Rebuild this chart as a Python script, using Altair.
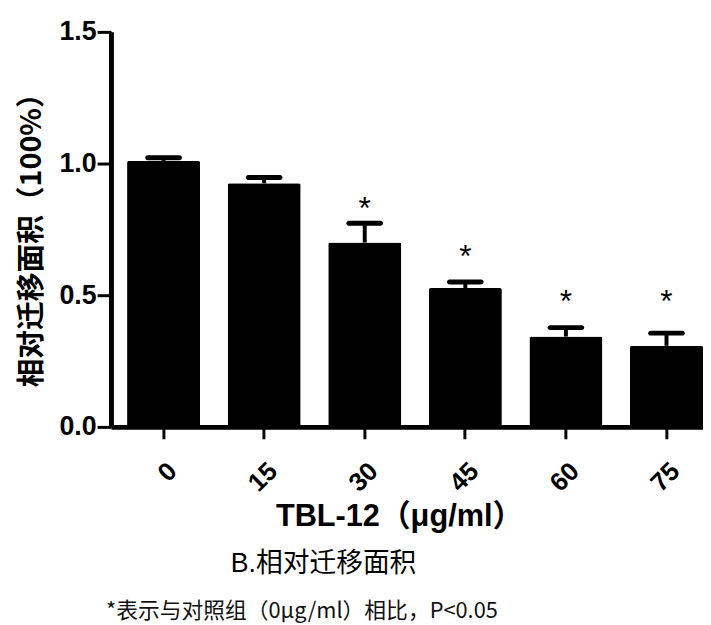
import altair as alt
import pandas as pd

# ---- data ----
doses = ["0", "15", "30", "45", "60", "75"]
means = [1.01, 0.925, 0.70, 0.527, 0.343, 0.308]
errors = [0.012, 0.022, 0.073, 0.023, 0.034, 0.048]
star_text = ["", "", "*", "*", "*", "*"]
star_level = [None, None, 0.847, 0.662, 0.492, 0.492]

subtitle = "B.相对迁移面积"
footnote = "*表示与对照组（0μg/ml）相比，P<0.05"
x_title = "TBL-12（μg/ml）"
y_title = "相对迁移面积（100%）"
y_ticks = [0.0, 0.5, 1.0, 1.5]

df = pd.DataFrame({
    "dose": doses,
    "mean": means,
    "err": errors,
    "star": star_text,
    "star_y": star_level,
})

LATIN = "Liberation Sans, Noto Sans CJK SC"
CJK = "Noto Sans CJK SC"

xscale = alt.Scale(paddingInner=0.274, paddingOuter=0.08, align=1.0)
yscale = alt.Scale(domain=[0, 1.5], nice=False)

xenc = alt.X(
    "dose:N", sort=doses, scale=xscale,
    axis=alt.Axis(
        title=x_title, labelAngle=-45, labelFont=LATIN, labelFontSize=26,
        labelFontWeight="bold", labelColor="black", labelPadding=19,
        tickSize=12, tickWidth=3, tickColor="black",
        domainWidth=5, domainColor="black", titleLimit=600,
        titleFont=LATIN, titleFontSize=31, titleFontWeight="bold", titleColor="black",
        titleX=291, titleY=91, titleAlign="center", titleBaseline="middle",
    ),
)
yenc = alt.Y(
    "mean:Q", scale=yscale,
    axis=alt.Axis(
        title=y_title, values=y_ticks, format=".1f", grid=False,
        labelFont=LATIN, labelFontSize=27, labelFontWeight="bold", labelColor="black",
        labelPadding=1, tickSize=14, tickWidth=3, tickColor="black",
        domainWidth=5, domainColor="black", titleLimit=600,
        titleFont=CJK, titleFontSize=29, titleFontWeight="bold", titleColor="black",
        titleAngle=270, titleX=-80, titleY=203, titleAlign="center", titleBaseline="middle",
    ),
)

base = alt.Chart(df).transform_calculate(upper="datum.mean + datum.err")

bars = base.mark_bar(color="black", cornerRadius=2).encode(x=xenc, y=yenc)

whisker = base.mark_rule(color="black", strokeWidth=4).encode(
    x=alt.X("dose:N", sort=doses),
    y=alt.Y("mean:Q"),
    y2="upper:Q",
)

caps = base.mark_tick(color="black", opacity=1, thickness=5, size=37, cornerRadius=2.5).encode(
    x=alt.X("dose:N", sort=doses),
    y=alt.Y("upper:Q"),
)

stars = base.transform_filter("datum.star != ''").mark_text(
    font=LATIN, fontSize=32, color="black", baseline="alphabetic", dy=15
).encode(
    x=alt.X("dose:N", sort=doses),
    y=alt.Y("star_y:Q"),
    text="star:N",
)

sub = alt.Chart(pd.DataFrame({"t": [subtitle]})).mark_text(
    font=LATIN, fontSize=27, color="black", align="left", baseline="middle"
).encode(text="t:N", x=alt.value(121), y=alt.value(538))

foot = alt.Chart(pd.DataFrame({"t": [footnote]})).mark_text(
    font=CJK, fontSize=22, color="#111111", align="left", baseline="middle"
).encode(text="t:N", x=alt.value(-5), y=alt.value(585))

chart = alt.layer(bars, whisker, caps, stars, sub, foot).properties(
    width=598,
    height=399,
    autosize=alt.AutoSizeParams(type="none"),
    padding={"left": 104, "top": 21, "right": 0, "bottom": 197},
    background="white",
).configure_view(stroke=None)

chart.save("out.html", embed_options={"renderer": "svg", "actions": False})
